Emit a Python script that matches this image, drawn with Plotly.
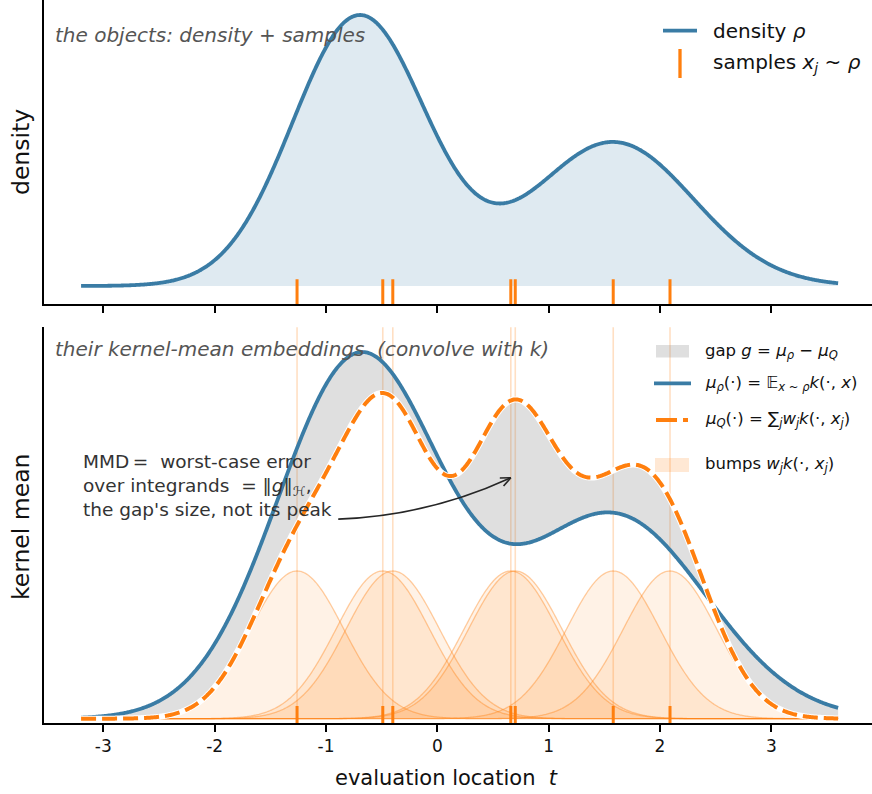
import numpy as np
import plotly.graph_objects as go

# ---------------- data ----------------
# two-component Gaussian mixture density rho
comp_weights = [0.61, 0.39]
comp_means = [-0.70, 1.58]
comp_sds = [0.60, 0.72]
# samples x_j ~ rho (equal weights w_j = 1/n)
samples = [-1.26, -0.49, -0.40, 0.66, 0.70, 1.58, 2.09]
# Gaussian kernel length-scale
kernel_len = 0.42
# evaluation grid limits
t_start, t_stop = -3.2, 3.6
x_ticks = [-3, -2, -1, 0, 1, 2, 3]
x_tick_labels = ["-3", "-2", "-1", "0", "1", "2", "3"]

# ---------------- styling ----------------
BLUE = "#3a7ca5"
BLUE_FILL = "rgba(58,124,165,0.16)"
ORANGE = "#ff7f0e"
GAP_FILL = "rgba(128,128,128,0.25)"
BUMP_FILL = "rgba(255,127,14,0.10)"
BUMP_LINE = "rgba(255,127,14,0.38)"
VLINE = "rgba(255,127,14,0.25)"
FONT = "DejaVu Sans"

# ---------------- curves ----------------
t = np.linspace(t_start, t_stop, 900)
rho = np.zeros_like(t)
mu_rho = np.zeros_like(t)
ell = kernel_len
for wi, mi, si in zip(comp_weights, comp_means, comp_sds):
    rho += wi * np.exp(-(t - mi) ** 2 / (2 * si ** 2)) / (si * np.sqrt(2 * np.pi))
    v = si ** 2 + ell ** 2
    mu_rho += wi * ell / np.sqrt(v) * np.exp(-(t - mi) ** 2 / (2 * v))

n = len(samples)
wj = 1.0 / n
bumps = [wj * np.exp(-(t - xj) ** 2 / (2 * ell ** 2)) for xj in samples]
mu_Q = np.sum(bumps, axis=0)

# ---------------- geometry (pixels) ----------------
W, H = 872, 794
L, R, T, B = 44, 0, 0, 71
PW, PH = W - L - R, H - T - B
top_dom = [(PH - 304.3) / PH, 1.0]
bot_dom = [0.0, (PH - 327.3) / PH]

px_per_unit = 111.33
x_zero_px = 437.33
x_range = [(L - x_zero_px) / px_per_unit, (W - R - x_zero_px) / px_per_unit]

# top panel: zero line at 286 px, density peak at 15 px
ppu_top = (286 - 15) / rho.max()
y_top_range = [-(304.3 - 286) / ppu_top, 286 / ppu_top]
# bottom panel: zero at 718.7 px, a single bump w_j k peaks at 571 px
ppu_bot = (718.7 - 571.0) / wj
y_bot_range = [-(723 - 718.7) / ppu_bot, (718.7 - 327.3) / ppu_bot]


def paper(xpx, ypx):
    return (xpx - L) / PW, (H - B - ypx) / PH


def bot_to_px(tv, yv):
    xpx = L + (tv - x_range[0]) / (x_range[1] - x_range[0]) * PW
    top_px = 327.3
    ypx = 723 - (yv - y_bot_range[0]) / (y_bot_range[1] - y_bot_range[0]) * (723 - top_px)
    return xpx, ypx


def smooth(color, width, dash=None):
    d = dict(color=color, width=width, simplify=False)
    if dash:
        d["dash"] = dash
    return d


fig = go.Figure()

# ---- top panel: density with fill ----
fig.add_trace(go.Scatter(x=t, y=rho, mode="lines", fill="tozeroy",
                         fillcolor=BLUE_FILL, line=smooth(BLUE, 3.8),
                         xaxis="x", yaxis="y", showlegend=False, hoverinfo="skip"))

# rug of samples (top)
rug_x, rug_y = [], []
for xj in samples:
    rug_x += [xj, xj, None]
    rug_y += [(286 - 279.3) / ppu_top, y_top_range[0], None]
fig.add_trace(go.Scatter(x=rug_x, y=rug_y, mode="lines",
                         line=dict(color=ORANGE, width=3),
                         xaxis="x", yaxis="y", showlegend=False, hoverinfo="skip"))

# ---- bottom panel ----
# gap between the two embeddings
fig.add_trace(go.Scatter(x=t, y=mu_Q, mode="lines", line=smooth("rgba(0,0,0,0)", 0),
                         xaxis="x2", yaxis="y2", showlegend=False, hoverinfo="skip"))
fig.add_trace(go.Scatter(x=t, y=mu_rho, mode="lines", fill="tonexty", fillcolor=GAP_FILL,
                         line=smooth("rgba(0,0,0,0)", 0),
                         xaxis="x2", yaxis="y2", showlegend=False, hoverinfo="skip"))

# individual bumps w_j k(., x_j)
for b in bumps:
    fig.add_trace(go.Scatter(x=t, y=b, mode="lines", fill="tozeroy", fillcolor=BUMP_FILL,
                             line=smooth(BUMP_LINE, 1.3),
                             xaxis="x2", yaxis="y2", showlegend=False, hoverinfo="skip"))

# mu_rho (solid blue)
fig.add_trace(go.Scatter(x=t, y=mu_rho, mode="lines", line=smooth(BLUE, 3.8),
                         xaxis="x2", yaxis="y2", showlegend=False, hoverinfo="skip"))
# mu_Q (dashed orange on a white stroke)
fig.add_trace(go.Scatter(x=t, y=mu_Q, mode="lines", line=smooth("white", 6),
                         xaxis="x2", yaxis="y2", showlegend=False, hoverinfo="skip"))
fig.add_trace(go.Scatter(x=t, y=mu_Q, mode="lines",
                         line=smooth(ORANGE, 4, "15px,6px"),
                         xaxis="x2", yaxis="y2", showlegend=False, hoverinfo="skip"))

# rug of samples (bottom)
rug_x, rug_y = [], []
for xj in samples:
    rug_x += [xj, xj, None]
    rug_y += [(718.7 - 706) / ppu_bot, y_bot_range[0], None]
fig.add_trace(go.Scatter(x=rug_x, y=rug_y, mode="lines",
                         line=dict(color=ORANGE, width=3),
                         xaxis="x2", yaxis="y2", showlegend=False, hoverinfo="skip"))

shapes = []
# faint vertical guides at every sample
for xj in samples:
    shapes.append(dict(type="line", xref="x2", yref="y2 domain", x0=xj, x1=xj, y0=0, y1=1,
                       line=dict(color=VLINE, width=1.6), layer="below"))

# ---- curved annotation arrow ----
tail = bot_to_px(-0.89, 0.193)
head = bot_to_px(0.66, 0.233)
mx, my = (tail[0] + head[0]) / 2, (tail[1] + head[1]) / 2
dx, dy = head[0] - tail[0], -(head[1] - tail[1])
rad = 0.1
cx, cy = mx + rad * dy, my + rad * dx
p0, pc, p1 = paper(*tail), paper(cx, cy), paper(*head)
shapes.append(dict(type="path", xref="paper", yref="paper",
                   path=f"M {p0[0]},{p0[1]} Q {pc[0]},{pc[1]} {p1[0]},{p1[1]}",
                   line=dict(color="#262626", width=1.6)))
ux, uy = head[0] - cx, head[1] - cy
nrm = np.hypot(ux, uy)
ux, uy = ux / nrm, uy / nrm
for ang in (0.42, -0.42):
    ca, sa = np.cos(ang), np.sin(ang)
    bx = head[0] - 11 * (ca * ux - sa * uy)
    by = head[1] - 11 * (sa * ux + ca * uy)
    q0, q1 = paper(bx, by), paper(*head)
    shapes.append(dict(type="line", xref="paper", yref="paper",
                       x0=q0[0], y0=q0[1], x1=q1[0], y1=q1[1],
                       line=dict(color="#262626", width=1.6)))

# ---- hand-built legends ----
def hline(x0, x1, y, color, width, dash=None):
    a, b = paper(x0, y), paper(x1, y)
    d = dict(color=color, width=width)
    if dash:
        d["dash"] = dash
    shapes.append(dict(type="line", xref="paper", yref="paper",
                       x0=a[0], y0=a[1], x1=b[0], y1=b[1], line=d))


def rect(x0, y0, x1, y1, fill):
    a, b = paper(x0, y0), paper(x1, y1)
    shapes.append(dict(type="rect", xref="paper", yref="paper",
                       x0=a[0], y0=a[1], x1=b[0], y1=b[1],
                       fillcolor=fill, line=dict(width=0)))


# top legend
hline(663, 697, 30.7, BLUE, 3.8)
a, b = paper(680, 49), paper(680, 78)
shapes.append(dict(type="line", xref="paper", yref="paper", x0=a[0], y0=a[1], x1=b[0], y1=b[1],
                   line=dict(color=ORANGE, width=3.3)))
# bottom legend
rect(656, 345, 689, 357.5, GAP_FILL)
hline(654, 691, 383.3, BLUE, 3.8)
hline(656, 677, 420, ORANGE, 4)
hline(683, 688, 420, ORANGE, 4)
rect(655, 458, 689, 472, "rgba(255,127,14,0.18)")

annotations = []


def text(xpx, ypx, s, size, color="#111111", xanchor="left", angle=0, align="left"):
    xp, yp = paper(xpx, ypx)
    annotations.append(dict(x=xp, y=yp, xref="paper", yref="paper", text=s, showarrow=False,
                            xanchor=xanchor, yanchor="middle", textangle=angle, align=align,
                            font=dict(family=FONT, size=size, color=color)))


text(53, 35, "<i>the objects: density + samples</i>", 20, "#555555")
text(53, 349, "<i>their kernel-mean embeddings\u00a0 (convolve with k)</i>", 20, "#555555")

text(711, 30.7, "density <i>ρ</i>", 20)
text(711, 63, "samples <i>x</i><sub><i>j</i></sub> ~ <i>ρ</i>", 20)

LEG = 16.5
text(703, 351.7, "gap <i>g</i> = <i>μ</i><sub><i>ρ</i></sub> − <i>μ</i><sub><i>Q</i></sub>", LEG)
text(703, 383.3, "<i>μ</i><sub><i>ρ</i></sub>(·) = 𝔼<sub><i>x</i> ~ <i>ρ</i></sub><i>k</i>(·, <i>x</i>)", LEG)
text(703, 420, "<i>μ</i><sub><i>Q</i></sub>(·) = ∑<sub><i>j</i></sub><i>w</i><sub><i>j</i></sub><i>k</i>(·, <i>x</i><sub><i>j</i></sub>)", LEG)
text(703, 465, "bumps <i>w</i><sub><i>j</i></sub><i>k</i>(·, <i>x</i><sub><i>j</i></sub>)", LEG)

text(81, 485, "MMD\u2009=\u00a0 worst-case error<br>over integrands \u00a0= ‖<i>g</i>‖<sub>ℋ</sub>,<br>"
     "the gap's size, not its peak", 18.5, "#333333")

text(21, 152, "density", 23.5, "#111111", xanchor="center", angle=-90)
text(21, 527, "kernel mean", 23.5, "#111111", xanchor="center", angle=-90)
text(446, 778, "evaluation location \u00a0<i>t</i>", 21, "#111111", xanchor="center")

axis_common = dict(showline=True, linecolor="black", linewidth=2, showgrid=False,
                   zeroline=False, mirror=False)

fig.update_layout(
    width=W, height=H,
    margin=dict(l=L, r=R, t=T, b=B),
    paper_bgcolor="white", plot_bgcolor="white",
    showlegend=False,
    xaxis=dict(domain=[0, 1], anchor="y", range=x_range, tickmode="array",
               tickvals=x_ticks, ticktext=x_tick_labels, showticklabels=False,
               ticks="outside", ticklen=7, tickwidth=1.6, tickcolor="black", **axis_common),
    yaxis=dict(domain=top_dom, anchor="x", range=y_top_range, showticklabels=False,
               ticks="", **axis_common),
    xaxis2=dict(domain=[0, 1], anchor="y2", range=x_range, tickmode="array",
                tickvals=x_ticks, ticktext=x_tick_labels,
                ticks="outside", ticklen=7, tickwidth=1.6, tickcolor="black",
                tickfont=dict(family=FONT, size=17, color="#111111"), **axis_common),
    yaxis2=dict(domain=bot_dom, anchor="x2", range=y_bot_range, showticklabels=False,
                ticks="", **axis_common),
    shapes=shapes,
    annotations=annotations,
)

fig.write_html("out.html")
